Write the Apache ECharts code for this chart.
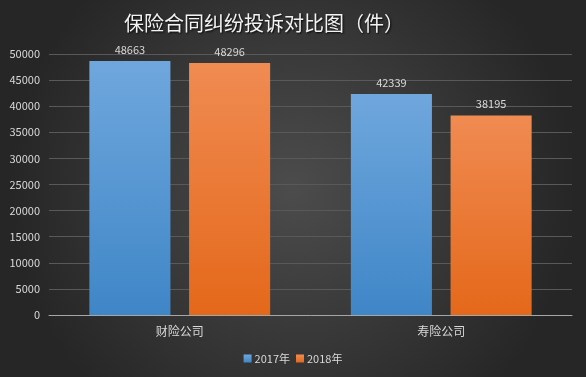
<!DOCTYPE html>
<html>
<head>
<meta charset="utf-8">
<script src="https://cdn.jsdelivr.net/npm/echarts@6/dist/echarts.min.js"></script>
<style>
html, body { margin: 0; padding: 0; }
#main { width: 586px; height: 377px; }
</style>
</head>
<body>
<div id="main"></div>
<script>
var categories = ['财险公司', '寿险公司']
var seriesNames = ['2017年', '2018年']
var values2017 = [48663, 42339]
var values2018 = [48296, 38195]
var yTicks = [0, 5000, 10000, 15000, 20000, 25000, 30000, 35000, 40000, 45000, 50000]

var font = '"Noto Sans CJK SC", "Noto Sans", sans-serif'

var grad = (top, bottom) => new echarts.graphic.LinearGradient(0, 0, 0, 1, [
	{ offset: 0, color: top },
	{ offset: 1, color: bottom }
])

var chart = echarts.init(document.getElementById('main'))
var option = {
	backgroundColor: new echarts.graphic.RadialGradient(0.5, 0.5, 0.75, [
		{ offset: 0, color: '#4c4c4c' },
		{ offset: 1, color: '#262626' }
	]),
	title: {
		text: '保险合同纠纷投诉对比图（件）',
		left: 119,
		top: 8,
		textStyle: {
			color: '#f2f2f2', fontSize: 20, fontWeight: 'normal', fontFamily: font,
			textShadowColor: 'rgba(0,0,0,0.9)', textShadowBlur: 2, textShadowOffsetX: 1, textShadowOffsetY: 1
		}
	},
	legend: {
		bottom: 8,
		left: 'center',
		itemWidth: 8,
		itemHeight: 8,
		itemGap: 6,
		icon: 'rect',
		textStyle: { color: '#d9d9d9', fontSize: 11, fontFamily: font, padding: [0, 0, 0, -2] },
		data: seriesNames
	},
	grid: { left: 49, right: 14, top: 54, bottom: 62 },
	xAxis: {
		type: 'category',
		data: categories,
		axisLine: { lineStyle: { color: '#a6a6a6', width: 1 } },
		axisTick: { show: false },
		axisLabel: { color: '#d9d9d9', fontSize: 12, fontFamily: font, margin: 10 }
	},
	yAxis: {
		type: 'value',
		min: yTicks[0],
		max: yTicks[yTicks.length - 1],
		interval: 5000,
		axisLine: { show: false },
		axisTick: { show: false },
		axisLabel: { color: '#d9d9d9', fontSize: 11, fontFamily: font, margin: 9, formatter: v => String(v) },
		splitLine: { lineStyle: { color: '#595959', width: 1 } }
	},
	series: [
		{
			name: seriesNames[0],
			type: 'bar',
			data: values2017,
			barWidth: '31%',
			barGap: '23%',
			itemStyle: { color: grad('#6fa7dd', '#3f86c7') },
			label: { show: true, position: 'top', distance: 6, color: '#d9d9d9', fontSize: 11, fontFamily: font }
		},
		{
			name: seriesNames[1],
			type: 'bar',
			data: values2018,
			barWidth: '31%',
			itemStyle: { color: grad('#f08b52', '#e4681a') },
			label: { show: true, position: 'top', distance: 6, color: '#d9d9d9', fontSize: 11, fontFamily: font }
		}
	]
}
chart.setOption(option)
</script>
</body>
</html>
